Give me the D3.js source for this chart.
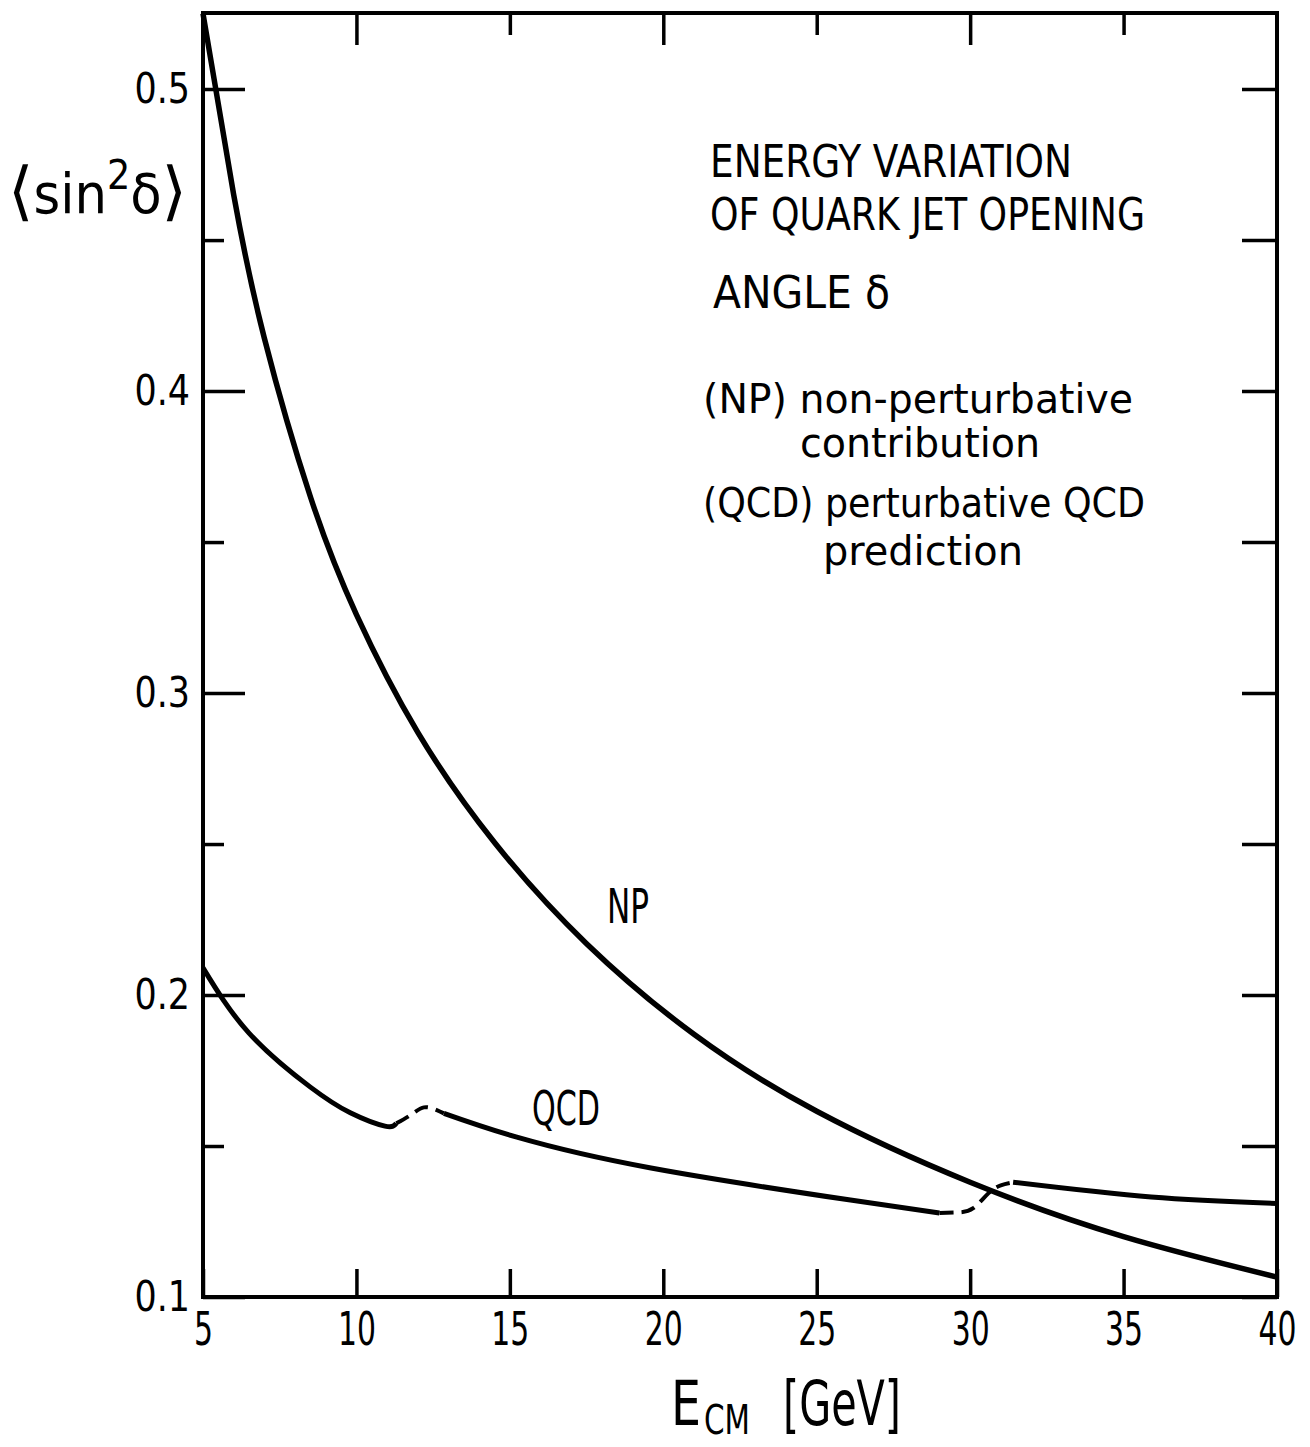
<!DOCTYPE html>
<html>
<head>
<meta charset="utf-8">
<script src="https://cdn.jsdelivr.net/npm/d3@7"></script>
<style>
  body { margin: 0; background: #fff; }
  svg text { font-family: "DejaVu Sans Condensed", "DejaVu Sans", sans-serif; fill: #000; }
</style>
</head>
<body>
<div id="chart"></div>
<script>
// E_CM [GeV] vs <sin^2 delta>
var npE   = [5.0, 6.0, 7.0, 8.5, 10.0, 12.0, 14.5, 17.5, 21.0, 25.0, 30.0, 35.0, 40.0];
var npVal = [0.525, 0.465, 0.4175, 0.365, 0.326, 0.287, 0.2505, 0.217, 0.187, 0.1615, 0.138, 0.120, 0.1066];

// QCD curve: solid pieces joined by dashed bridges
var qcdLowE     = [5.0, 6.5, 8.5, 9.8, 10.93, 11.3];
var qcdLowVal   = [0.209, 0.1874, 0.1695, 0.161, 0.1566, 0.1575];
var qcdBr1E     = [11.3, 11.8, 12.2, 12.6, 12.85];
var qcdBr1Val   = [0.1575, 0.1605, 0.1628, 0.162, 0.1608];
var qcdMidE     = [12.85, 15.2, 19.6, 26.1, 29.0];
var qcdMidVal   = [0.1608, 0.153, 0.1427, 0.1321, 0.1278];
var qcdBr2E     = [29.0, 29.6, 30.1, 30.6, 31.0, 31.4];
var qcdBr2Val   = [0.1278, 0.128, 0.1294, 0.1344, 0.137, 0.138];
var qcdHighE    = [31.4, 35.9, 40.0];
var qcdHighVal  = [0.138, 0.1331, 0.131];

var xTicks = [5, 10, 15, 20, 25, 30, 35, 40];
var yMajor = [0.1, 0.2, 0.3, 0.4, 0.5];
var yMinor = [0.15, 0.25, 0.35, 0.45];

(function () {
  "use strict";
  var W = 1310, H = 1447,
    mLeft = 203, mRight = 1277, mTop = 13, mBottom = 1297;

  var svg = d3.select("#chart").append("svg")
    .attr("width", W)
    .attr("height", H);

  var x = d3.scaleLinear().domain([5, 40]).range([mLeft, mRight]);
  var y = d3.scaleLinear().domain([0.1, 0.5252]).range([mBottom, mTop]);

  function pts(es, vs) {
    return es.map(function (e, i) { return [e, vs[i]]; });
  }

  var line = d3.line()
    .x(function (d) { return x(d[0]); })
    .y(function (d) { return y(d[1]); })
    .curve(d3.curveNatural);

  function styleAxis(g, fs, perChar) {
    g.select(".domain").remove();
    g.selectAll(".tick line").attr("stroke", "#000").attr("stroke-width", 3.5);
    g.selectAll(".tick text")
      .attr("font-size", fs)
      .attr("fill", "#000")
      .attr("textLength", function () { return perChar * this.textContent.length; })
      .attr("lengthAdjust", "spacingAndGlyphs");
  }

  // left axis
  svg.append("g")
    .attr("transform", "translate(" + mLeft + ",0)")
    .call(d3.axisLeft(y).tickValues(yMajor).tickSizeInner(-42).tickSizeOuter(0)
      .tickPadding(13).tickFormat(d3.format(".1f")))
    .call(styleAxis, 42, 18.5);
  svg.append("g")
    .attr("transform", "translate(" + mLeft + ",0)")
    .call(d3.axisLeft(y).tickValues(yMinor).tickSizeInner(-21).tickSizeOuter(0).tickFormat(""))
    .call(styleAxis, 42, 0);

  // right axis
  svg.append("g")
    .attr("transform", "translate(" + mRight + ",0)")
    .call(d3.axisRight(y).tickValues(yMajor.concat(yMinor)).tickSizeInner(-35).tickSizeOuter(0).tickFormat(""))
    .call(styleAxis, 42, 0);

  // bottom axis
  svg.append("g")
    .attr("transform", "translate(0," + mBottom + ")")
    .call(d3.axisBottom(x).tickValues(xTicks).tickSizeInner(-28).tickSizeOuter(0).tickPadding(15))
    .call(styleAxis, 46, 19);

  // top axis
  svg.append("g")
    .attr("transform", "translate(0," + mTop + ")")
    .call(d3.axisTop(x).tickValues(xTicks.filter(function (d) { return d % 10 === 0 && d < 40; }))
      .tickSizeInner(-32).tickSizeOuter(0).tickFormat(""))
    .call(styleAxis, 42, 0);
  svg.append("g")
    .attr("transform", "translate(0," + mTop + ")")
    .call(d3.axisTop(x).tickValues(xTicks.filter(function (d) { return d % 10 === 5 && d > 5; }))
      .tickSizeInner(-22).tickSizeOuter(0).tickFormat(""))
    .call(styleAxis, 42, 0);

  // frame
  svg.append("rect")
    .attr("x", mLeft).attr("y", mTop)
    .attr("width", mRight - mLeft).attr("height", mBottom - mTop)
    .attr("fill", "none").attr("stroke", "#000").attr("stroke-width", 4);

  // curves
  svg.append("path")
    .attr("d", line(pts(npE, npVal)))
    .attr("fill", "none").attr("stroke", "#000").attr("stroke-width", 5.5);

  [[qcdLowE, qcdLowVal, false], [qcdBr1E, qcdBr1Val, true], [qcdMidE, qcdMidVal, false],
    [qcdBr2E, qcdBr2Val, true], [qcdHighE, qcdHighVal, false]].forEach(function (s) {
    svg.append("path")
      .attr("d", line(pts(s[0], s[1])))
      .attr("fill", "none").attr("stroke", "#000")
      .attr("stroke-width", s[2] ? 4 : 5)
      .attr("stroke-dasharray", s[2] ? "14,8" : null);
  });

  // curve labels
  svg.append("text").attr("x", 607).attr("y", 923).attr("font-size", 48)
    .attr("textLength", 42).attr("lengthAdjust", "spacingAndGlyphs").text("NP");
  svg.append("text").attr("x", 532).attr("y", 1125).attr("font-size", 48)
    .attr("textLength", 68).attr("lengthAdjust", "spacingAndGlyphs").text("QCD");

  // annotation
  var notes = [
    {t: "ENERGY VARIATION", x: 710, y: 177, w: 362, fs: 44},
    {t: "OF QUARK JET OPENING", x: 710, y: 230, w: 435, fs: 44},
    {t: "ANGLE δ", x: 713, y: 308, w: 177, fs: 44},
    {t: "(NP) non-perturbative", x: 703, y: 413, w: 430, fs: 40},
    {t: "contribution", x: 800, y: 457, w: 240, fs: 40},
    {t: "(QCD) perturbative QCD", x: 703, y: 517, w: 442, fs: 40},
    {t: "prediction", x: 823, y: 565, w: 200, fs: 40}
  ];
  svg.append("g").selectAll("text")
    .data(notes)
    .enter().append("text")
    .attr("x", function (d) { return d.x; })
    .attr("y", function (d) { return d.y; })
    .attr("font-size", function (d) { return d.fs; })
    .attr("textLength", function (d) { return d.w; })
    .attr("lengthAdjust", "spacingAndGlyphs")
    .text(function (d) { return d.t; });

  // y label
  var yl = svg.append("text").attr("x", 8).attr("y", 213).attr("font-size", 56)
    .attr("textLength", 179).attr("lengthAdjust", "spacingAndGlyphs");
  yl.append("tspan").attr("font-family", "DejaVu Sans").attr("font-size", 64).text("⟨");
  yl.append("tspan").text("sin");
  yl.append("tspan").attr("font-size", 40).attr("dy", -24).text("2");
  yl.append("tspan").attr("dy", 24).text("δ");
  yl.append("tspan").attr("font-family", "DejaVu Sans").attr("font-size", 64).text("⟩");

  // x label: E, subscript CM, [GeV]
  svg.append("text").attr("x", 671).attr("y", 1425).attr("font-size", 62)
    .attr("textLength", 30).attr("lengthAdjust", "spacingAndGlyphs").text("E");
  svg.append("text").attr("x", 704).attr("y", 1434).attr("font-size", 40)
    .attr("textLength", 46).attr("lengthAdjust", "spacingAndGlyphs").text("CM");
  svg.append("text").attr("x", 783).attr("y", 1425).attr("font-size", 62)
    .attr("textLength", 118).attr("lengthAdjust", "spacingAndGlyphs").text("[GeV]");
}());
</script>
</body>
</html>
